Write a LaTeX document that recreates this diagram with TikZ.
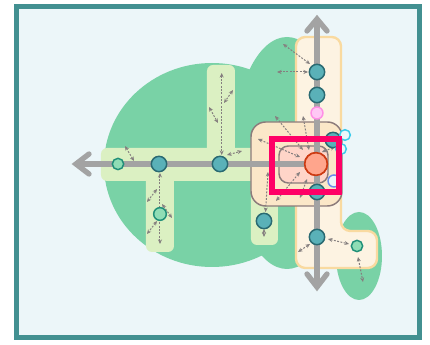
\documentclass[tikz,border=0pt]{standalone}
\usetikzlibrary{arrows.meta}
\definecolor{framec}{HTML}{429091}
\definecolor{bgc}{HTML}{ECF6F9}
\definecolor{greenc}{HTML}{79D2A6}
\definecolor{corr}{HTML}{DBF0C2}
\definecolor{orf}{HTML}{FDF3E2}
\definecolor{ord}{HTML}{F9DAA0}
\definecolor{boxf}{HTML}{FBE7C8}
\definecolor{boxd}{HTML}{8C7B7B}
\definecolor{inf}{HTML}{FFD5C8}
\definecolor{linec}{HTML}{A3A3A3}
\definecolor{tealf}{HTML}{5AB1B8}
\definecolor{teald}{HTML}{2A6A72}
\definecolor{gnf}{HTML}{8FDDB5}
\definecolor{gnd}{HTML}{1F8F78}
\definecolor{pinkf}{HTML}{FFC8F5}
\definecolor{pinkd}{HTML}{FF8FE6}
\definecolor{cyand}{HTML}{3CCBEB}
\definecolor{blued}{HTML}{6C8CEB}
\definecolor{redf}{HTML}{FFA58C}
\definecolor{redd}{HTML}{CC3A12}
\definecolor{hot}{HTML}{FF0066}
\definecolor{dashc}{HTML}{857F7F}
\tikzset{
  x=0.75pt,y=-0.75pt,
  corridor/.style={fill=corr,rounded corners=4.5pt},
  ocorr/.style={fill=orf,draw=ord,line width=1.8pt,rounded corners=7pt},
  mainline/.style={draw=linec,line width=3.9pt},
  chevron/.style={draw=linec,line width=4pt,line cap=round,line join=miter},
  dasharrow/.style={draw=dashc,line width=0.75pt,dash pattern=on 1.4pt off 1.1pt,{Stealth[length=3.4pt,width=3pt,fill=dashc]}-{Stealth[length=3.4pt,width=3pt,fill=dashc]}},
  dot/.style={circle,inner sep=0pt,line width=1.1pt},
  teal dot/.style={dot,fill=tealf,draw=teald,minimum size=11.5pt},
  green dot/.style={dot,fill=gnf,draw=gnd,minimum size=8.5pt},
  pink dot/.style={dot,fill=pinkf,draw=pinkd,minimum size=9pt},
  cyan dot/.style={dot,fill=bgc,draw=cyand,minimum size=8pt},
  blue dot/.style={dot,fill=bgc,draw=blued,minimum size=9pt},
  core dot/.style={dot,fill=redf,draw=redd,minimum size=17pt,line width=1.2pt},
}
\begin{document}
\begin{tikzpicture}
\useasboundingbox (0,0) rectangle (430,345);
\fill[white] (0,0) rectangle (430,345);
\draw[draw=framec,fill=bgc,line width=3.75pt] (16.5,6.5) rectangle (420,337.5);
% green regions
\fill[greenc] (212,165) ellipse [x radius=108,y radius=102];
\fill[greenc] (287,153) ellipse [x radius=54,y radius=116];
\fill[greenc] (359,256) ellipse [x radius=23,y radius=44];
% corridors
\fill[corridor] (101,148) rectangle (300,181);
\fill[corridor] (207,65) rectangle (235,175);
\fill[corridor] (146,170) rectangle (174,252);
\fill[corridor] (251,150) rectangle (278,245);
\draw[ocorr] (296,37) -- (341,37) -- (341,231) -- (377,231) -- (377,268) -- (296,268) -- cycle;
% boxes
\draw[fill=boxf,draw=boxd,line width=1.1pt,rounded corners=11pt] (251,122) rectangle (342,206);
\draw[fill=inf,draw=boxd,line width=1.1pt,rounded corners=7pt] (279,146) rectangle (328,183);
% arrow tips and nodes
\coordinate (tipL) at (76,164);
\coordinate (tipT) at (317,19);
\coordinate (tipB) at (317,287);
\node[core dot] (core) at (316,164) {};
\draw[mainline] (tipL) -- (core.center);
\draw[mainline] (tipT) -- (tipB);
\coordinate (L1) at (89,154); \coordinate (L2) at (89,174);
\coordinate (T1) at (307,31); \coordinate (T2) at (327,31);
\coordinate (B1) at (307,274); \coordinate (B2) at (327,274);
\draw[chevron] (L1) -- (tipL) -- (L2);
\draw[chevron] (T1) -- (tipT) -- (T2);
\draw[chevron] (B1) -- (tipB) -- (B2);
% dashed arrows
\foreach \i/\ax/\ay/\bx/\by in {
 1/125/146/134/161, 2/283/44/310/64, 3/277/72/308/72, 4/221.7/73/221.7/155,
 5/233/90/224/103, 6/227/155/242/151, 7/209/107/218/123, 8/275/116/303/150,
 9/303/116/309/150, 10/258/139/300/157, 11/322/152/335/147, 12/160/173/160/244,
 13/157/189/147/202, 14/162/204/172/218, 15/157/221/147/234, 16/268/172/265.5/212,
 17/264/229/264/237, 18/310/244/298/252, 19/328/239/349/244, 20/358/257/363/282,
 21/300/172/276/201, 22/307/179/300/198}{
  \coordinate (s\i) at (\ax,\ay);
  \coordinate (e\i) at (\bx,\by);
  \draw[dasharrow] (s\i) -- (e\i);
}
% nodes
\node[green dot] (g1) at (118,164) {};
\node[teal dot] (t1) at (159,164) {};
\node[teal dot] (t2) at (220,164) {};
\node[green dot,minimum size=9.5pt] (g2) at (160,214) {};
\node[teal dot] (t3) at (317,72) {};
\node[teal dot] (t4) at (317,95) {};
\node[pink dot] (p1) at (317,113) {};
\node[teal dot] (t5) at (333,140) {};
\node[cyan dot] (c1) at (345,135) {};
\node[cyan dot] (c2) at (341,149) {};
\node[blue dot] (b1) at (334,181) {};
\node[teal dot] (t6) at (317,192) {};
\node[teal dot] (t7) at (264,221) {};
\node[teal dot] (t8) at (317,237) {};
\node[green dot] (g3) at (357,246) {};
\node[core dot] at (core) {};
% highlight frame
\draw[draw=hot,line width=4.5pt,line join=miter] (272,139) rectangle (339,192);
\end{tikzpicture}
\end{document}
